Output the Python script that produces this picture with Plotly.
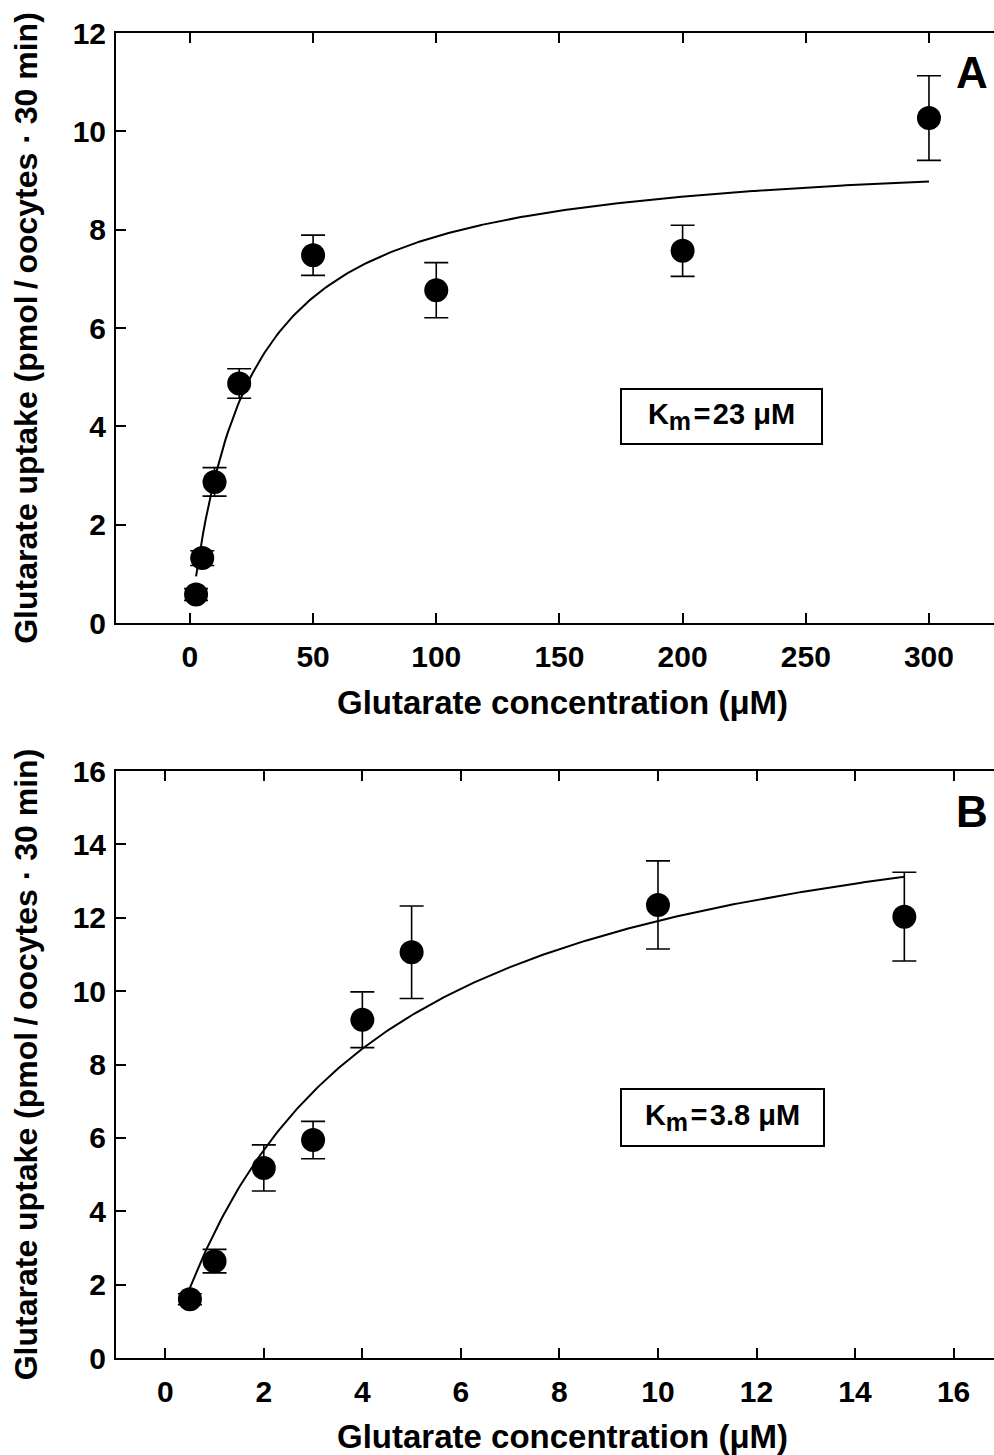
import numpy as np
import plotly.graph_objects as go

# ---- Panel A: glutarate concentration 2.5–300 µM ----
conc_a = [2.5, 5, 10, 20, 50, 100, 200, 300]
uptake_a = [0.58, 1.32, 2.87, 4.87, 7.48, 6.77, 7.57, 10.27]
sem_a = [0.12, 0.15, 0.29, 0.30, 0.41, 0.56, 0.52, 0.86]
km_a = 23.0
vmax_a = 9.67
xticks_a = [0, 50, 100, 150, 200, 250, 300]
yticks_a = [0, 2, 4, 6, 8, 10, 12]

# ---- Panel B: glutarate concentration 0.5–15 µM ----
conc_b = [0.5, 1, 2, 3, 4, 5, 10, 15]
uptake_b = [1.60, 2.64, 5.18, 5.94, 9.22, 11.06, 12.35, 12.03]
sem_b = [0.15, 0.32, 0.63, 0.51, 0.76, 1.26, 1.20, 1.21]
km_b = 3.8
vmax_b = 16.44
xticks_b = [0, 2, 4, 6, 8, 10, 12, 14, 16]
yticks_b = [0, 2, 4, 6, 8, 10, 12, 14, 16]

x_title = "Glutarate concentration (μM)"
y_title = "Glutarate uptake (pmol\u2009/\u2009oocytes · 30 min)"

W, H = 994, 1455
ML, MR, MT, MB = 116, 0, 33, 97
PW, PH = W - ML - MR, H - MT - MB


def px(xp):
    return (xp - ML) / PW


def py(yp):
    return (H - MB - yp) / PH


FONT = "Liberation Sans, Arial, Helvetica, sans-serif"


def mm_curve(xmin, xmax, vmax, km):
    xs = np.linspace(xmin, xmax, 300)
    return xs, vmax * xs / (km + xs)


fig = go.Figure()

for conc, up, sem, vmax, km, xa, ya in [
    (conc_a, uptake_a, sem_a, vmax_a, km_a, "x", "y"),
    (conc_b, uptake_b, sem_b, vmax_b, km_b, "x2", "y2"),
]:
    fx, fy = mm_curve(min(conc), max(conc), vmax, km)
    fig.add_trace(go.Scatter(x=fx, y=fy, mode="lines",
                             line=dict(color="black", width=2),
                             xaxis=xa, yaxis=ya, showlegend=False,
                             hoverinfo="skip"))
    fig.add_trace(go.Scatter(x=conc, y=up, mode="markers",
                             marker=dict(color="black", size=24),
                             error_y=dict(type="data", array=sem, color="black",
                                          thickness=1.6, width=12),
                             xaxis=xa, yaxis=ya, showlegend=False))

tickfont = dict(family=FONT, size=30, color="black", weight="bold")
title_font = dict(family=FONT, size=32, color="black", weight="bold")
axis_common = dict(showline=True, linecolor="black", linewidth=2,
                   ticks="inside", ticklen=10, tickwidth=2, tickcolor="black",
                   showgrid=False, zeroline=False, tickfont=tickfont)
y_title_cfg = dict(text=y_title, font=title_font, standoff=25)

dom_a = [py(623), 1.0]
dom_b = [0.0, py(771)]

fig.update_layout(
    width=W, height=H,
    margin=dict(l=ML, r=MR, t=MT, b=MB),
    paper_bgcolor="white", plot_bgcolor="white",
    xaxis=dict(domain=[0, 1], range=[-30, 326.4], tickvals=xticks_a,
               mirror="ticks", anchor="y", ticklabelstandoff=6, **axis_common),
    yaxis=dict(domain=dom_a, range=[0, 12], tickvals=yticks_a, anchor="x",
               ticklabelstandoff=2, title=y_title_cfg, automargin=False,
               **axis_common),
    xaxis2=dict(domain=[0, 1], range=[-1, 16.82], tickvals=xticks_b,
                mirror="ticks", anchor="y2", ticklabelstandoff=6, **axis_common),
    yaxis2=dict(domain=dom_b, range=[0, 16], tickvals=yticks_b, anchor="x2",
                ticklabelstandoff=2, title=y_title_cfg, automargin=False,
                **axis_common),
)

ann = []
# horizontal axis titles, centred on the full plot frame
xt_font = dict(family=FONT, size=33, color="black", weight="bold")
ann.append(dict(text=x_title, x=px(562), y=py(702), font=xt_font))
ann.append(dict(text=x_title, x=px(562), y=py(1437), font=xt_font))
# panel letters
letter_font = dict(family=FONT, size=44, color="black", weight="bold")
ann.append(dict(text="A", x=px(972), y=py(72), font=letter_font))
ann.append(dict(text="B", x=px(972), y=py(811), font=letter_font))
# Km boxes
km_font = dict(family=FONT, size=29, color="black", weight="bold")


def km_label(km):
    return ("K<sub><span style='font-size:25px'>m</span></sub>"
            f"\u200a=\u200a{km:g} μM")


ann.append(dict(text=km_label(km_a), x=px(721.5), y=py(416.5),
                font=km_font, bordercolor="black", borderwidth=2, borderpad=1,
                width=197, height=51, bgcolor="white"))
ann.append(dict(text=km_label(km_b), x=px(722.5), y=py(1117.5),
                font=km_font, bordercolor="black", borderwidth=2, borderpad=1,
                width=199, height=53, bgcolor="white"))

for a in ann:
    a.update(xref="paper", yref="paper", xanchor="center", yanchor="middle",
             showarrow=False)
fig.update_layout(annotations=ann)

fig.write_html("out.html")
